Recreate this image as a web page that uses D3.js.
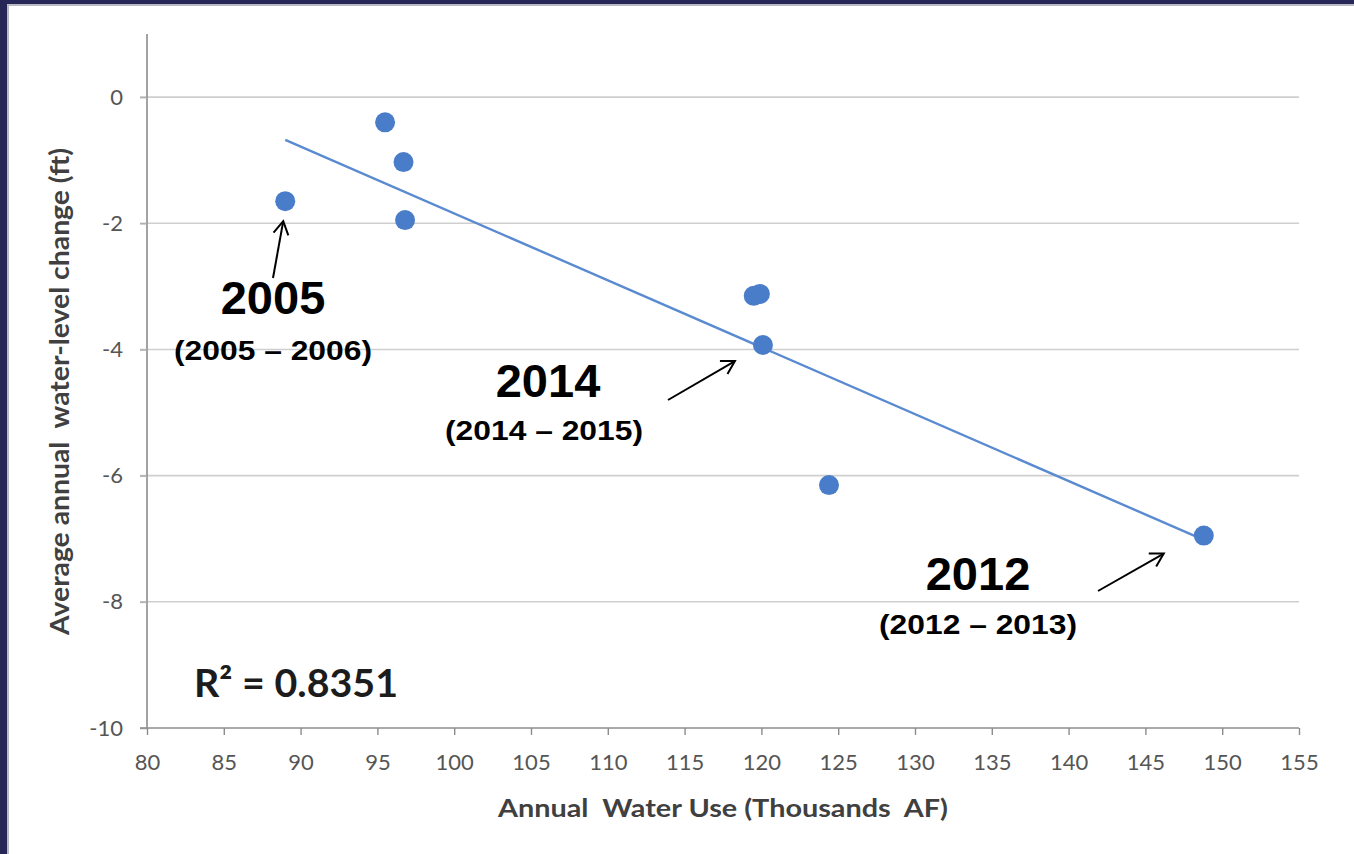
<!DOCTYPE html>
<html>
<head>
<meta charset="utf-8">
<script src="https://cdn.jsdelivr.net/npm/d3@7"></script>
<style>
  html, body { margin: 0; padding: 0; background: #ffffff; }
  svg { display: block; }
</style>
</head>
<body>
<svg id="chart" width="1354" height="854"></svg>
<script>
// ---- Data ----
const waterUse = [89.0, 95.5, 96.7, 96.8, 119.5, 119.9, 120.1, 124.4, 148.8];      // thousands AF
const levelChange = [-1.65, -0.40, -1.03, -1.95, -3.15, -3.12, -3.93, -6.15, -6.95]; // ft
const xTickValues = [80, 85, 90, 95, 100, 105, 110, 115, 120, 125, 130, 135, 140, 145, 150, 155];
const yTickValues = [-10, -8, -6, -4, -2, 0];
const annotationYears = ["2005", "2014", "2012"];
const annotationRanges = ["(2005 \u2013 2006)", "(2014 \u2013 2015)", "(2012 \u2013 2013)"];
const annotationPointIndex = [0, 6, 8];
const rSquaredLabel = "R\u00B2 = 0.8351";
const xTitle = "Annual  Water Use (Thousands  AF)";
const yTitle = "Average annual  water-level change (ft)";

// ---- Layout ----
const svg = d3.select("#chart");
const W = 1354, H = 854;
const plot = { left: 147, right: 1299, top: 34, bottom: 728 };

const x = d3.scaleLinear().domain([80, 155]).range([plot.left, plot.right]);
const y = d3.scaleLinear().domain([-10, 1]).range([plot.bottom, plot.top]);

svg.append("rect").attr("width", W).attr("height", H).attr("fill", "#ffffff");

// frame (dark navy top/left edges with soft shadow)
svg.append("rect").attr("x", 0).attr("y", 4).attr("width", 9).attr("height", H).attr("fill", "#b9b9c4");
svg.append("rect").attr("x", 0).attr("y", 0).attr("width", W).attr("height", 6).attr("fill", "#b9b9c4");
svg.append("rect").attr("x", 0).attr("y", 0).attr("width", W).attr("height", 4).attr("fill", "#262657");
svg.append("rect").attr("x", 0).attr("y", 0).attr("width", 7).attr("height", H).attr("fill", "#262657");

const tickFont = "Lato, 'Open Sans', sans-serif";

// gridlines
svg.append("g")
  .selectAll("line")
  .data(yTickValues.filter(v => v !== -10))
  .join("line")
  .attr("x1", plot.left - 7).attr("x2", plot.right)
  .attr("y1", d => y(d)).attr("y2", d => y(d))
  .attr("stroke", "#cfcfcf").attr("stroke-width", 1.6);

// y axis
const yAxis = d3.axisLeft(y).tickValues(yTickValues).tickSize(7).tickPadding(17).tickFormat(d => String(d));
const yg = svg.append("g").attr("transform", `translate(${plot.left},0)`).call(yAxis);
yg.select(".domain").attr("stroke", "#8c8c8c").attr("stroke-width", 1.6).attr("d", `M0,${plot.top}V${plot.bottom}`);
yg.selectAll(".tick line").attr("stroke", "#b0b0b0").attr("stroke-width", 1.6);
yg.selectAll(".tick text").attr("font-family", tickFont).attr("font-size", 22).attr("fill", "#555555");

// x axis
const xAxis = d3.axisBottom(x).tickValues(xTickValues).tickSize(7).tickPadding(19).tickFormat(d => String(d));
const xg = svg.append("g").attr("transform", `translate(0,${plot.bottom})`).call(xAxis);
xg.select(".domain").attr("stroke", "#8c8c8c").attr("stroke-width", 1.6).attr("d", `M${plot.left - 7},0H${plot.right}`);
xg.selectAll(".tick line").attr("stroke", "#8c8c8c").attr("stroke-width", 1.4);
xg.selectAll(".tick text").attr("font-family", tickFont).attr("font-size", 22).attr("fill", "#555555");

// axis titles
svg.append("text")
  .attr("x", 498).attr("y", 817)
  .attr("font-family", tickFont).attr("font-weight", "bold").attr("font-size", 25)
  .attr("fill", "#404040")
  .attr("textLength", 450).attr("lengthAdjust", "spacingAndGlyphs")
  .style("white-space", "pre")
  .text(xTitle);

svg.append("text")
  .attr("transform", "translate(69,635) rotate(-90)")
  .attr("font-family", tickFont).attr("font-weight", "bold").attr("font-size", 26)
  .attr("fill", "#404040")
  .attr("textLength", 487).attr("lengthAdjust", "spacingAndGlyphs")
  .style("white-space", "pre")
  .text(yTitle);

// ---- Linear trend line (least squares from the data) ----
const pts = waterUse.map((v, i) => ({ x: v, y: levelChange[i] }));
const mx = d3.mean(pts, d => d.x), my = d3.mean(pts, d => d.y);
const sxy = d3.sum(pts, d => (d.x - mx) * (d.y - my));
const sxx = d3.sum(pts, d => (d.x - mx) ** 2);
const slope = sxy / sxx, intercept = my - slope * mx;
const [xmin, xmax] = d3.extent(waterUse);

svg.append("line")
  .attr("x1", x(xmin)).attr("y1", y(intercept + slope * xmin))
  .attr("x2", x(xmax)).attr("y2", y(intercept + slope * xmax))
  .attr("stroke", "#5a8ad0").attr("stroke-width", 2.4);

// points
svg.append("g")
  .selectAll("circle")
  .data(pts)
  .join("circle")
  .attr("cx", d => x(d.x)).attr("cy", d => y(d.y))
  .attr("r", 10)
  .attr("fill", "#4a7dc9");

// R² label
svg.append("text")
  .attr("x", 194).attr("y", 697)
  .attr("font-family", tickFont).attr("font-weight", "bold").attr("font-size", 39)
  .attr("fill", "#1c1c1c")
  .attr("textLength", 204).attr("lengthAdjust", "spacingAndGlyphs")
  .text(rSquaredLabel);

// ---- Annotations ----
const annoLayout = [
  { yearX: 273, yearY: 314, rangeX: 273, rangeY: 360, tail: [273, 278], tipOffset: [-2, 20] },
  { yearX: 548, yearY: 397, rangeX: 544, rangeY: 440, tail: [668, 400], tipOffset: [-28, 16] },
  { yearX: 978, yearY: 590, rangeX: 978, rangeY: 634, tail: [1098, 591], tipOffset: [-40, 18] }
];

const annoFont = "'Liberation Sans', Arial, sans-serif";
const ag = svg.append("g");
annotationYears.forEach((yr, i) => {
  const L = annoLayout[i];
  ag.append("text").attr("x", L.yearX).attr("y", L.yearY)
    .attr("text-anchor", "middle").attr("font-family", annoFont)
    .attr("font-weight", "bold").attr("font-size", 47).attr("fill", "#000")
    .text(yr);
  ag.append("text").attr("x", L.rangeX).attr("y", L.rangeY)
    .attr("text-anchor", "middle").attr("font-family", annoFont)
    .attr("font-weight", "bold").attr("font-size", 27).attr("fill", "#000")
    .attr("textLength", 198).attr("lengthAdjust", "spacingAndGlyphs")
    .text(annotationRanges[i]);

  const p = pts[annotationPointIndex[i]];
  const tipX = x(p.x) + L.tipOffset[0], tipY = y(p.y) + L.tipOffset[1];
  const [tx, ty] = L.tail;
  ag.append("line").attr("x1", tx).attr("y1", ty).attr("x2", tipX).attr("y2", tipY)
    .attr("stroke", "#000").attr("stroke-width", 2);
  const ang = Math.atan2(tipY - ty, tipX - tx);
  const len = 15, spread = Math.PI / 6;
  const a1 = ang + Math.PI - spread, a2 = ang + Math.PI + spread;
  ag.append("path")
    .attr("d", `M${tipX + len * Math.cos(a1)},${tipY + len * Math.sin(a1)}L${tipX},${tipY}L${tipX + len * Math.cos(a2)},${tipY + len * Math.sin(a2)}`)
    .attr("fill", "none").attr("stroke", "#000").attr("stroke-width", 2);
});
</script>
</body>
</html>
